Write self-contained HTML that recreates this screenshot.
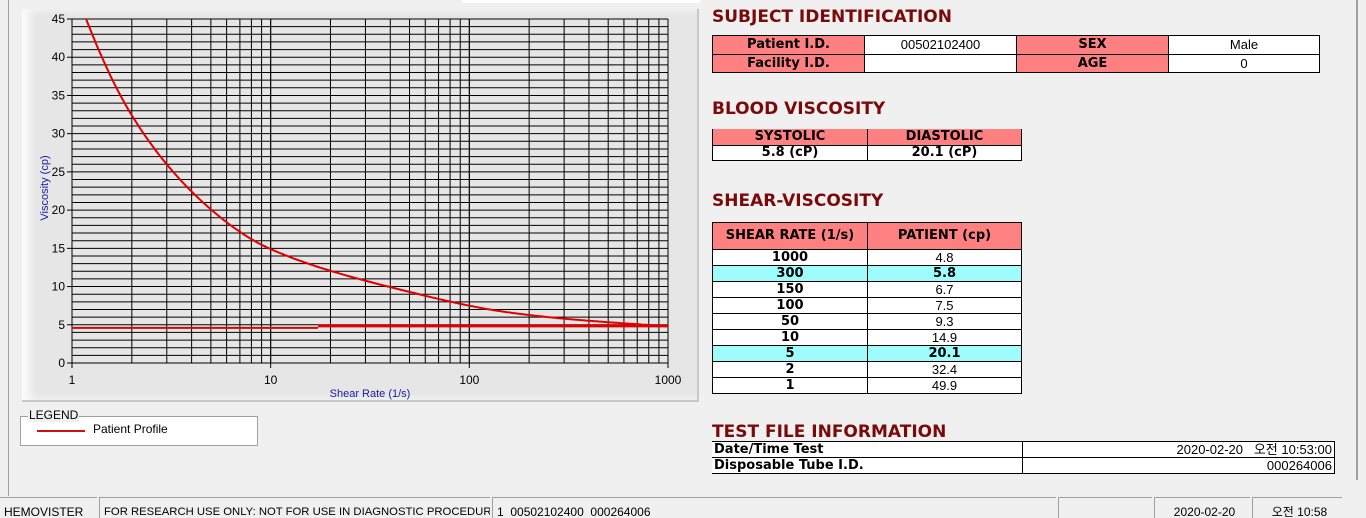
<!DOCTYPE html>
<html><head><meta charset="utf-8"><style>
html,body{margin:0;width:1366px;height:518px;overflow:hidden}
body{background:#f0f0f0;position:relative;font-family:"Liberation Sans","Noto Sans CJK KR",sans-serif}
.abs{position:absolute}
h2{position:absolute;margin:0;font:bold 17px "DejaVu Sans","Liberation Sans",sans-serif;color:#7a0a0a;white-space:nowrap}
table{position:absolute;border-collapse:collapse;font:13px "Liberation Sans",sans-serif}
td{border:1px solid #000;text-align:center;padding:0;line-height:14px;white-space:nowrap}
.h{background:#ff8080;font-weight:bold;font-family:"DejaVu Sans",sans-serif;font-size:13px}
.w{background:#fff}
.b{font-weight:bold;font-family:"DejaVu Sans",sans-serif;font-size:13px}
.c{background:#9ffcfc}
.sb{position:absolute;top:497px;height:21px;border-left:1px solid #a0a0a0;border-top:1px solid #a0a0a0;font-size:12px;line-height:28px;padding-left:4px;box-sizing:border-box;color:#000;white-space:nowrap;overflow:hidden}
</style></head><body>
<div class="abs" style="left:0;top:0;width:8px;height:496px;border-right:1px solid #a0a0a0;background:#f0f0f0"></div>
<div class="abs" style="left:462px;top:0;width:238px;height:3px;background:#fff"></div>
<div class="abs" style="left:1356px;top:0;width:2px;height:480px;background:#a0a0a0"></div>
<div class="abs" style="left:22px;top:9px;width:675px;height:391px;background:#e6e6e6;border-right:2px solid #c8c8c8;border-bottom:2px solid #c8c8c8;box-shadow:inset 8px 0 8px #fafafa"></div>
<svg class="abs" style="left:0;top:0" width="700" height="410" id="ch"></svg>
<div class="abs" style="left:20px;top:416px;width:236px;height:28px;border:1px solid #a0a0a0;background:#fff"></div>
<div class="abs" style="left:28px;top:408px;background:#f0f0f0;font-size:12px;padding:0 1px">LEGEND</div>
<div class="abs" style="left:37px;top:430px;width:48px;height:2px;background:#d01010"></div>
<div class="abs" style="left:93px;top:422px;font-size:12px">Patient Profile</div>

<h2 style="left:712px;top:7px">SUBJECT IDENTIFICATION</h2>
<table style="left:712px;top:35px;width:608px">
<tr style="height:19px"><td class="h" style="width:151px">Patient I.D.</td><td class="w" style="width:151px">00502102400</td><td class="h" style="width:151px">SEX</td><td class="w">Male</td></tr>
<tr style="height:18px"><td class="h">Facility I.D.</td><td class="w"></td><td class="h">AGE</td><td class="w">0</td></tr></table>

<h2 style="left:712px;top:99px">BLOOD VISCOSITY</h2>
<table style="left:712px;top:129px;width:310px">
<tr style="height:16px"><td class="h" style="width:154px;border-top:none">SYSTOLIC</td><td class="h" style="border-top:none">DIASTOLIC</td></tr>
<tr style="height:15px"><td class="w b">5.8 (cP)</td><td class="w b">20.1 (cP)</td></tr></table>

<h2 style="left:712px;top:191px">SHEAR-VISCOSITY</h2>
<table style="left:712px;top:222px;width:310px">
<tr style="height:27px"><td class="h" style="width:154px">SHEAR RATE (1/s)</td><td class="h">PATIENT (cp)</td></tr>
<tr style="height:16px" class="w"><td class="b">1000</td><td>4.8</td></tr>
<tr style="height:16px" class="c"><td class="b">300</td><td class="b">5.8</td></tr>
<tr style="height:16px" class="w"><td class="b">150</td><td>6.7</td></tr>
<tr style="height:16px" class="w"><td class="b">100</td><td>7.5</td></tr>
<tr style="height:16px" class="w"><td class="b">50</td><td>9.3</td></tr>
<tr style="height:16px" class="w"><td class="b">10</td><td>14.9</td></tr>
<tr style="height:16px" class="c"><td class="b">5</td><td class="b">20.1</td></tr>
<tr style="height:16px" class="w"><td class="b">2</td><td>32.4</td></tr>
<tr style="height:16px" class="w"><td class="b">1</td><td>49.9</td></tr></table>

<h2 style="left:712px;top:422px">TEST FILE INFORMATION</h2>
<table style="left:712px;top:441px;width:623px">
<tr style="height:16px" class="w"><td class="b" style="width:308px;text-align:left;padding-left:2px;border-left:none">Date/Time Test</td><td style="text-align:right;padding-right:2px">2020-02-20 &nbsp; 오전 10:53:00</td></tr>
<tr style="height:16px" class="w"><td class="b" style="text-align:left;padding-left:2px;border-left:none">Disposable Tube I.D.</td><td style="text-align:right;padding-right:2px">000264006</td></tr></table>

<div class="sb" style="left:0;width:97px;border-left:none">HEMOVISTER</div>
<div class="sb" style="left:99px;width:391px;font-size:11.3px">FOR RESEARCH USE ONLY: NOT FOR USE IN DIAGNOSTIC PROCEDURES</div>
<div class="sb" style="left:492px;width:564px">1 &nbsp;00502102400 &nbsp;000264006</div>
<div class="sb" style="left:1058px;width:94px"></div>
<div class="sb" style="left:1154px;width:96px;text-align:center">2020-02-20</div>
<div class="sb" style="left:1252px;width:90px;text-align:center">오전 10:58</div>
<script>
var s=document.getElementById('ch'),o='';
var X0=72,X1=668,Y0=363,Y1=19,D=(X1-X0)/3;
function X(v){return X0+Math.log10(v)*D}
function Y(v){return Y0-v*(Y0-Y1)/45}
for(var i=0;i<=45;i++){var y=Y(i);o+='<line x1="'+X0+'" x2="'+X1+'" y1="'+y+'" y2="'+y+'" stroke="#000" stroke-width="1"/>';}
for(var d=0;d<3;d++)for(var k=1;k<=10;k++){var x=X(k*Math.pow(10,d));o+='<line x1="'+x+'" x2="'+x+'" y1="'+Y1+'" y2="'+Y0+'" stroke="#000" stroke-width="1"/>';}
for(var i=0;i<=45;i+=5){var y=Y(i);o+='<line x1="'+(X0-5)+'" x2="'+X0+'" y1="'+y+'" y2="'+y+'" stroke="#000"/><text x="'+(X0-7)+'" y="'+(y+4)+'" text-anchor="end" font-size="12" font-family="Liberation Sans">'+i+'</text>';}
[1,10,100,1000].forEach(function(v){var x=X(v);o+='<line x1="'+x+'" x2="'+x+'" y1="'+Y0+'" y2="'+(Y0+5)+'" stroke="#000"/><text x="'+x+'" y="'+(Y0+21)+'" text-anchor="middle" font-size="12" font-family="Liberation Sans">'+v+'</text>';});
o+='<text x="370" y="397" text-anchor="middle" font-size="11" fill="#1a1aa0" font-family="Liberation Sans">Shear Rate (1/s)</text>';
o+='<text transform="translate(48,188) rotate(-90)" text-anchor="middle" font-size="11" fill="#1a1aa0" font-family="Liberation Sans">Viscosity (cp)</text>';
var P=[[1,49.9],[2,32.4],[5,20.1],[10,14.9],[50,9.3],[100,7.5],[150,6.7],[300,5.8],[1000,4.8]];
var L=P.map(function(p){return [Math.log10(p[0]),Math.log(p[1])]});
function f(t){for(var i=0;i<L.length-1;i++){if(t<=L[i+1][0]){var a=L[Math.max(i-1,0)],b=L[i],c=L[i+1],e=L[Math.min(i+2,L.length-1)];var h=c[0]-b[0],u=(t-b[0])/h;var m1=(c[1]-a[1])/(c[0]-a[0]||1)*h,m2=(e[1]-b[1])/(e[0]-b[0]||1)*h;if(i==0)m1=c[1]-b[1];if(i==L.length-2)m2=c[1]-b[1];var u2=u*u,u3=u2*u;return Math.exp((2*u3-3*u2+1)*b[1]+(u3-2*u2+u)*m1+(-2*u3+3*u2)*c[1]+(u3-u2)*m2);}}return P[P.length-1][1];}
var pts=[];for(var t=0;t<=3.0001;t+=0.01){var v=f(t);if(v<=45.3)pts.push(X(Math.pow(10,t)).toFixed(1)+','+Y(v).toFixed(1));}
o+='<defs><clipPath id="cp"><rect x="'+X0+'" y="'+Y1+'" width="'+(X1-X0)+'" height="'+(Y0-Y1)+'"/></clipPath></defs>';
o+='<polyline clip-path="url(#cp)" points="'+pts.join(' ')+'" fill="none" stroke="#e00000" stroke-width="2"/>';
o+='<line x1="72" x2="318" y1="'+Y(4.6)+'" y2="'+Y(4.6)+'" stroke="#e00000" stroke-width="2"/>';
o+='<line x1="318" x2="668" y1="'+Y(4.85)+'" y2="'+Y(4.85)+'" stroke="#e00000" stroke-width="3"/>';
s.innerHTML=o;
</script>
</body></html>
